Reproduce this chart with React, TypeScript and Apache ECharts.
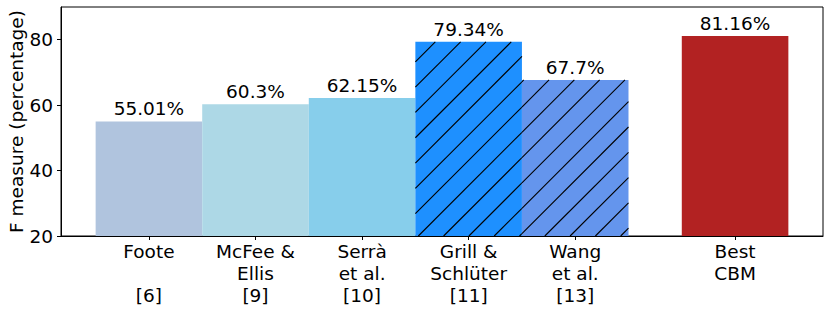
import React, { useEffect, useRef } from "react";
import * as echarts from "echarts";

const categories = [
  "Foote\n\n[6]",
  "McFee &\nEllis\n[9]",
  "Serrà\net al.\n[10]",
  "Grill &\nSchlüter\n[11]",
  "Wang\net al.\n[13]",
  "Best\nCBM",
];
const positions = [0, 1, 2, 3, 4, 5.5];
const values = [55.01, 60.3, 62.15, 79.34, 67.7, 81.16];
const valueLabels = ["55.01%", "60.3%", "62.15%", "79.34%", "67.7%", "81.16%"];
const colors = ["#B0C4DE", "#ADD8E6", "#87CEEB", "#1E90FF", "#6495ED", "#B22222"];
const hatched = [0, 0, 0, 1, 1, 0];
const yTicks = [20, 40, 60, 80];

const FONT = "DejaVu Sans";
const FS = 18.5;
const HATCH_C0 = 654.3;
const HATCH_STEP = 25.3;

export default function App() {
  const ref = useRef<HTMLDivElement>(null);
  useEffect(() => {
    const chart = echarts.init(ref.current!, null, { renderer: "svg" });
    const data = positions.map((p, i) => [p, values[i], i]);
    chart.setOption({
      animation: false,
      grid: {
        left: 61,
        top: 7,
        right: 8,
        bottom: 76,
        show: true,
        borderColor: "#000",
        borderWidth: 1,
        backgroundColor: "transparent",
        containLabel: false,
        outerBoundsMode: "none",
      },
      xAxis: {
        type: "value",
        min: -0.825,
        max: 6.325,
        splitLine: { show: false },
        axisLine: { show: true, onZero: false, lineStyle: { color: "#000", width: 1 } },
        axisTick: {
          show: true,
          customValues: positions,
          length: 4,
          lineStyle: { color: "#000", width: 1 },
        },
        axisLabel: {
          customValues: positions,
          formatter: (v: number) => {
            const i = positions.findIndex((p) => Math.abs(p - v) < 1e-6);
            return i >= 0 ? categories[i] : "";
          },
          fontFamily: FONT,
          fontSize: FS,
          lineHeight: 21.8,
          color: "#000",
          margin: 5,
          align: "center",
        },
      },
      yAxis: {
        type: "value",
        min: 20,
        max: 90,
        interval: 20,
        splitLine: { show: false },
        axisLine: { show: true, onZero: false, lineStyle: { color: "#000", width: 1 } },
        axisTick: {
          show: true,
          length: 4,
          customValues: yTicks,
          lineStyle: { color: "#000", width: 1 },
        },
        axisLabel: {
          fontFamily: FONT,
          fontSize: FS,
          color: "#000",
          margin: 8,
          customValues: yTicks,
        },
        name: "F measure (percentage)",
        nameLocation: "middle",
        nameGap: 35,
        nameMoveOverlap: false,
        nameTextStyle: { fontFamily: FONT, fontSize: FS, color: "#000" },
      },
      series: [
        {
          type: "custom",
          data,
          encode: { x: 0, y: 1 },
          renderItem: (params: any, api: any) => {
            const x = api.value(0);
            const v = api.value(1);
            const i = api.value(2);
            const tl = api.coord([x - 0.5, v]);
            const br = api.coord([x + 0.5, 20]);
            const x1 = tl[0], y1 = tl[1], x2 = br[0], y2 = br[1];
            const children: any[] = [
              {
                type: "rect",
                shape: { x: x1, y: y1, width: x2 - x1, height: y2 - y1 },
                style: { fill: colors[i] },
              },
            ];
            if (hatched[i]) {
              const cMin = x1 + y1;
              const cMax = x2 + y2;
              let k = Math.ceil((cMin - HATCH_C0) / HATCH_STEP);
              for (; ; k++) {
                const c = HATCH_C0 + k * HATCH_STEP;
                if (c > cMax) break;
                const lo = Math.max(x1, c - y2);
                const hi = Math.min(x2, c - y1);
                if (hi - lo > 0.5) {
                  children.push({
                    type: "line",
                    shape: { x1: lo, y1: c - lo, x2: hi, y2: c - hi },
                    style: { stroke: "#000", lineWidth: 1.1 },
                  });
                }
              }
            }
            children.push({
              type: "text",
              style: {
                text: valueLabels[i],
                x: (x1 + x2) / 2,
                y: y1 - 3,
                align: "center",
                verticalAlign: "bottom",
                fill: "#000",
                fontSize: FS,
                fontFamily: FONT,
              },
            });
            return { type: "group", children };
          },
        },
      ],
    });
    return () => chart.dispose();
  }, []);
  return (
    <div
      ref={ref}
      style={{ position: "fixed", left: 0, top: 0, width: 831, height: 312, background: "#fff" }}
    />
  );
}
